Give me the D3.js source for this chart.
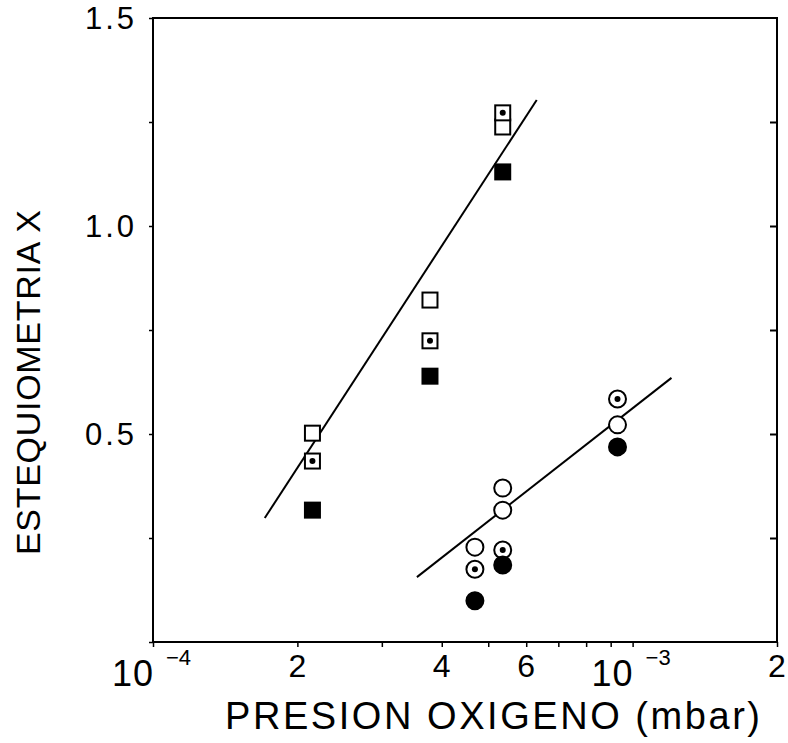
<!DOCTYPE html>
<html>
<head>
<meta charset="utf-8">
<script src="https://cdn.jsdelivr.net/npm/d3@7/dist/d3.min.js"></script>
<style>
  html, body { margin: 0; padding: 0; background: #fff; }
  svg { display: block; }
  text { font-family: "Liberation Sans", Arial, sans-serif; fill: #000; }
</style>
</head>
<body>
<svg id="chart" width="788" height="743"></svg>
<script>
// ---- data ----
const squareX      = [2.15e-4, 3.78e-4, 5.36e-4];
const squareOpen   = [0.502, 0.822, 1.238];
const squareDotted = [0.435, 0.724, 1.272];
const squareFilled = [0.317, 0.639, 1.130];

const circleOpenX   = [4.69e-4, 5.36e-4, 5.36e-4, 9.3e-4];
const circleOpenY   = [0.228, 0.370, 0.317, 0.522];
const circleDottedX = [4.69e-4, 5.36e-4, 9.3e-4];
const circleDottedY = [0.175, 0.221, 0.584];
const circleFilledX = [4.69e-4, 5.36e-4, 9.3e-4];
const circleFilledY = [0.099, 0.185, 0.469];

const fitSquaresX = [1.71e-4, 6.31e-4];
const fitSquaresY = [0.298, 1.303];
const fitCirclesX = [3.55e-4, 1.205e-3];
const fitCirclesY = [0.156, 0.635];

const yTickValues = [0.5, 1.0, 1.5];
const yTickLabels = ["0.5", "1.0", "1.5"];
const yMinorTicks = [0, 0.25, 0.5, 0.75, 1.0, 1.25, 1.5];
const xTickValues = [1e-4, 2e-4, 3e-4, 4e-4, 5e-4, 6e-4, 7e-4, 8e-4, 9e-4, 1e-3, 2e-3];
const xDigitLabels = [{v: 2e-4, t: "2"}, {v: 4e-4, t: "4"}, {v: 6e-4, t: "6"}, {v: 2e-3, t: "2"}];
const xPowerLabels = [{v: 1e-4, base: "10", exp: "\u22124"}, {v: 1e-3, base: "10", exp: "\u22123"}];

const xTitle = "PRESION  OXIGENO  (mbar)";
const yTitle = "ESTEQUIOMETRIA  X";

// ---- layout ----
const svg = d3.select("#chart");
const mLeft = 153, mRight = 777, mTop = 18, mBottom = 642;

const x = d3.scaleLog().domain([1e-4, 2e-3]).range([mLeft, mRight]);
const y = d3.scaleLinear().domain([0, 1.5]).range([mBottom, mTop]);

// frame
svg.append("rect").attr("x", mLeft).attr("y", mTop).attr("width", mRight - mLeft).attr("height", mBottom - mTop)
  .attr("stroke", "#000").attr("stroke-width", 2).attr("fill", "none");

// left axis (outward ticks)
const yAxisL = d3.axisLeft(y).tickValues(yMinorTicks).tickSize(4).tickFormat("");
svg.append("g").attr("transform", `translate(${mLeft},0)`).call(yAxisL)
  .call(g => g.select(".domain").remove())
  .call(g => g.selectAll("line").attr("stroke-width", 1.5));

// right axis (inward ticks)
const yAxisR = d3.axisLeft(y).tickValues([0.25, 0.5, 0.75, 1.0, 1.25]).tickSize(7).tickFormat("");
svg.append("g").attr("transform", `translate(${mRight},0)`).call(yAxisR)
  .call(g => g.select(".domain").remove())
  .call(g => g.selectAll("line").attr("stroke-width", 2));

// bottom axis (outward ticks)
const xAxis = d3.axisBottom(x).tickValues(xTickValues).tickSize(5).tickFormat("");
svg.append("g").attr("transform", `translate(0,${mBottom})`).call(xAxis)
  .call(g => g.select(".domain").remove())
  .call(g => g.selectAll("line").attr("stroke-width", 1.5));

// y tick labels
svg.append("g").selectAll("text").data(yTickValues).join("text")
  .attr("x", 137).attr("y", d => y(d) + 11)
  .attr("text-anchor", "end").attr("font-size", 31).attr("letter-spacing", 3)
  .text((d, i) => yTickLabels[i]);

// x digit labels
svg.append("g").selectAll("text").data(xDigitLabels).join("text")
  .attr("x", d => x(d.v)).attr("y", mBottom + 35)
  .attr("text-anchor", "middle").attr("font-size", 32)
  .text(d => d.t);

// x power labels
const pl = svg.append("g").selectAll("g").data(xPowerLabels).join("g");
pl.append("text").attr("x", d => x(d.v) + 1).attr("y", mBottom + 44)
  .attr("text-anchor", "end").attr("font-size", 36).attr("letter-spacing", 1).text(d => d.base);
pl.append("text").attr("x", d => x(d.v) + 13).attr("y", mBottom + 23)
  .attr("text-anchor", "start").attr("font-size", 22).text(d => d.exp);

// axis titles
svg.append("text").attr("x", 225).attr("y", 729).attr("font-size", 38)
  .attr("textLength", 535).attr("lengthAdjust", "spacing").text(xTitle);
svg.append("text").attr("transform", "translate(40,555) rotate(-90)").attr("font-size", 34)
  .attr("textLength", 345).attr("lengthAdjust", "spacing").text(yTitle);

// fit lines
const line = d3.line().x(d => x(d[0])).y(d => y(d[1]));
svg.append("path").datum(d3.zip(fitSquaresX, fitSquaresY)).attr("d", line)
  .attr("stroke", "#000").attr("stroke-width", 2).attr("fill", "none");
svg.append("path").datum(d3.zip(fitCirclesX, fitCirclesY)).attr("d", line)
  .attr("stroke", "#000").attr("stroke-width", 2).attr("fill", "none");

// markers
const sq = 15, cr = 8.5;
function squares(xs, ys, filled, dotted) {
  const g = svg.append("g");
  const pts = d3.zip(xs, ys);
  g.selectAll("rect").data(pts).join("rect")
    .attr("x", d => x(d[0]) - sq / 2).attr("y", d => y(d[1]) - sq / 2)
    .attr("width", sq).attr("height", sq)
    .attr("fill", filled ? "#000" : "#fff").attr("stroke", "#000").attr("stroke-width", 2);
  if (dotted) g.selectAll("circle").data(pts).join("circle")
    .attr("cx", d => x(d[0])).attr("cy", d => y(d[1])).attr("r", 3).attr("fill", "#000");
}
function circles(xs, ys, filled, dotted) {
  const g = svg.append("g");
  const pts = d3.zip(xs, ys);
  g.selectAll("circle.m").data(pts).join("circle").attr("class", "m")
    .attr("cx", d => x(d[0])).attr("cy", d => y(d[1])).attr("r", cr)
    .attr("fill", filled ? "#000" : "#fff").attr("stroke", "#000").attr("stroke-width", 2);
  if (dotted) g.selectAll("circle.d").data(pts).join("circle").attr("class", "d")
    .attr("cx", d => x(d[0])).attr("cy", d => y(d[1])).attr("r", 3).attr("fill", "#000");
}
squares(squareX, squareOpen, false, false);
squares(squareX, squareDotted, false, true);
squares(squareX, squareFilled, true, false);
circles(circleOpenX, circleOpenY, false, false);
circles(circleDottedX, circleDottedY, false, true);
circles(circleFilledX, circleFilledY, true, false);
</script>
</body>
</html>
